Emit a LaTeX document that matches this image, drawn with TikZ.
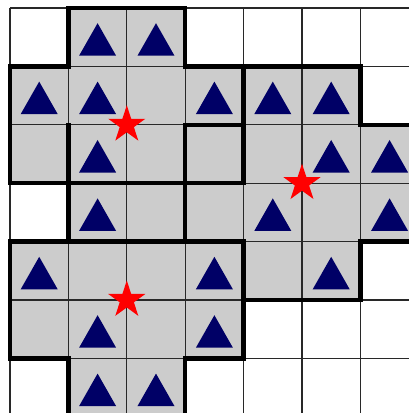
\documentclass[tikz,border=0pt]{standalone}
\definecolor{cellgray}{RGB}{204,204,204}
\definecolor{trinavy}{RGB}{0,0,102}
\definecolor{gridline}{RGB}{40,40,40}
\tikzset{
  thinline/.style={draw=gridline, line width=0.6pt},
  thickline/.style={draw=black, line width=2.1pt, line cap=rect},
  cellfill/.style={fill=cellgray},
  tri/.style={fill=trinavy},
  redstar/.pic={
    \fill[red] (90:0.335) -- (126:0.128) -- (162:0.335) -- (198:0.128) -- (234:0.335) -- (270:0.128) -- (306:0.335) -- (342:0.128) -- (18:0.335) -- (54:0.128) -- cycle;
  },
}
\begin{document}
\begin{tikzpicture}[x=1cm,y=1cm]
\useasboundingbox (-0.1712,0.137) rectangle (6.832,-6.935);
\clip (-0.1712,0.137) rectangle (6.832,-6.935);
\fill[white] (-0.1712,0.137) rectangle (6.832,-6.935);
% gray cells: row -> list of columns
\foreach \r/\cols in {0/{1,2},1/{0,1,2,3,4,5},2/{0,1,2,3,4,5,6},3/{1,2,3,4,5,6},4/{0,1,2,3,4,5},5/{0,1,2,3},6/{1,2}}{
  \foreach \c in \cols {
    \path[cellfill] (\c,-\r) rectangle (\c+1,-\r-1);
  }
}
% thin grid
\foreach \i in {0,...,7}{
  \draw[thinline] (\i,0) -- (\i,-7);
  \draw[thinline] (0,-\i) -- (7,-\i);
}
% triangles
\foreach \r/\cols in {0/{1,2},1/{0,1,3,4,5},2/{1,5,6},3/{1,4,6},4/{0,3,5},5/{1,3},6/{1,2}}{
  \foreach \c in \cols {
    \path[tri] (\c+0.5,-\r-0.5+0.24) -- (\c+0.5-0.317,-\r-0.5-0.317) -- (\c+0.5+0.317,-\r-0.5-0.317) -- cycle;
  }
}
% thick borders: horizontal
\foreach \y/\a/\b in {0/1/3, 1/0/1, 1/3/6, 2/3/4, 2/6/7, 3/0/4, 4/0/4, 4/6/7, 5/4/6, 6/0/1, 6/3/4}{
  \draw[thickline] (\a,-\y) -- (\b,-\y);
}
% thick borders: vertical
\foreach \x/\a/\b in {0/1/3, 0/4/6, 1/0/1, 1/2/4, 1/6/7, 3/0/1, 3/2/4, 3/6/7, 4/1/3, 4/4/6, 6/1/2, 6/4/5}{
  \draw[thickline] (\x,-\a) -- (\x,-\b);
}
% stars
\pic at (2,-2) {redstar};
\pic at (5,-3) {redstar};
\pic at (2,-5) {redstar};
\end{tikzpicture}
\end{document}
